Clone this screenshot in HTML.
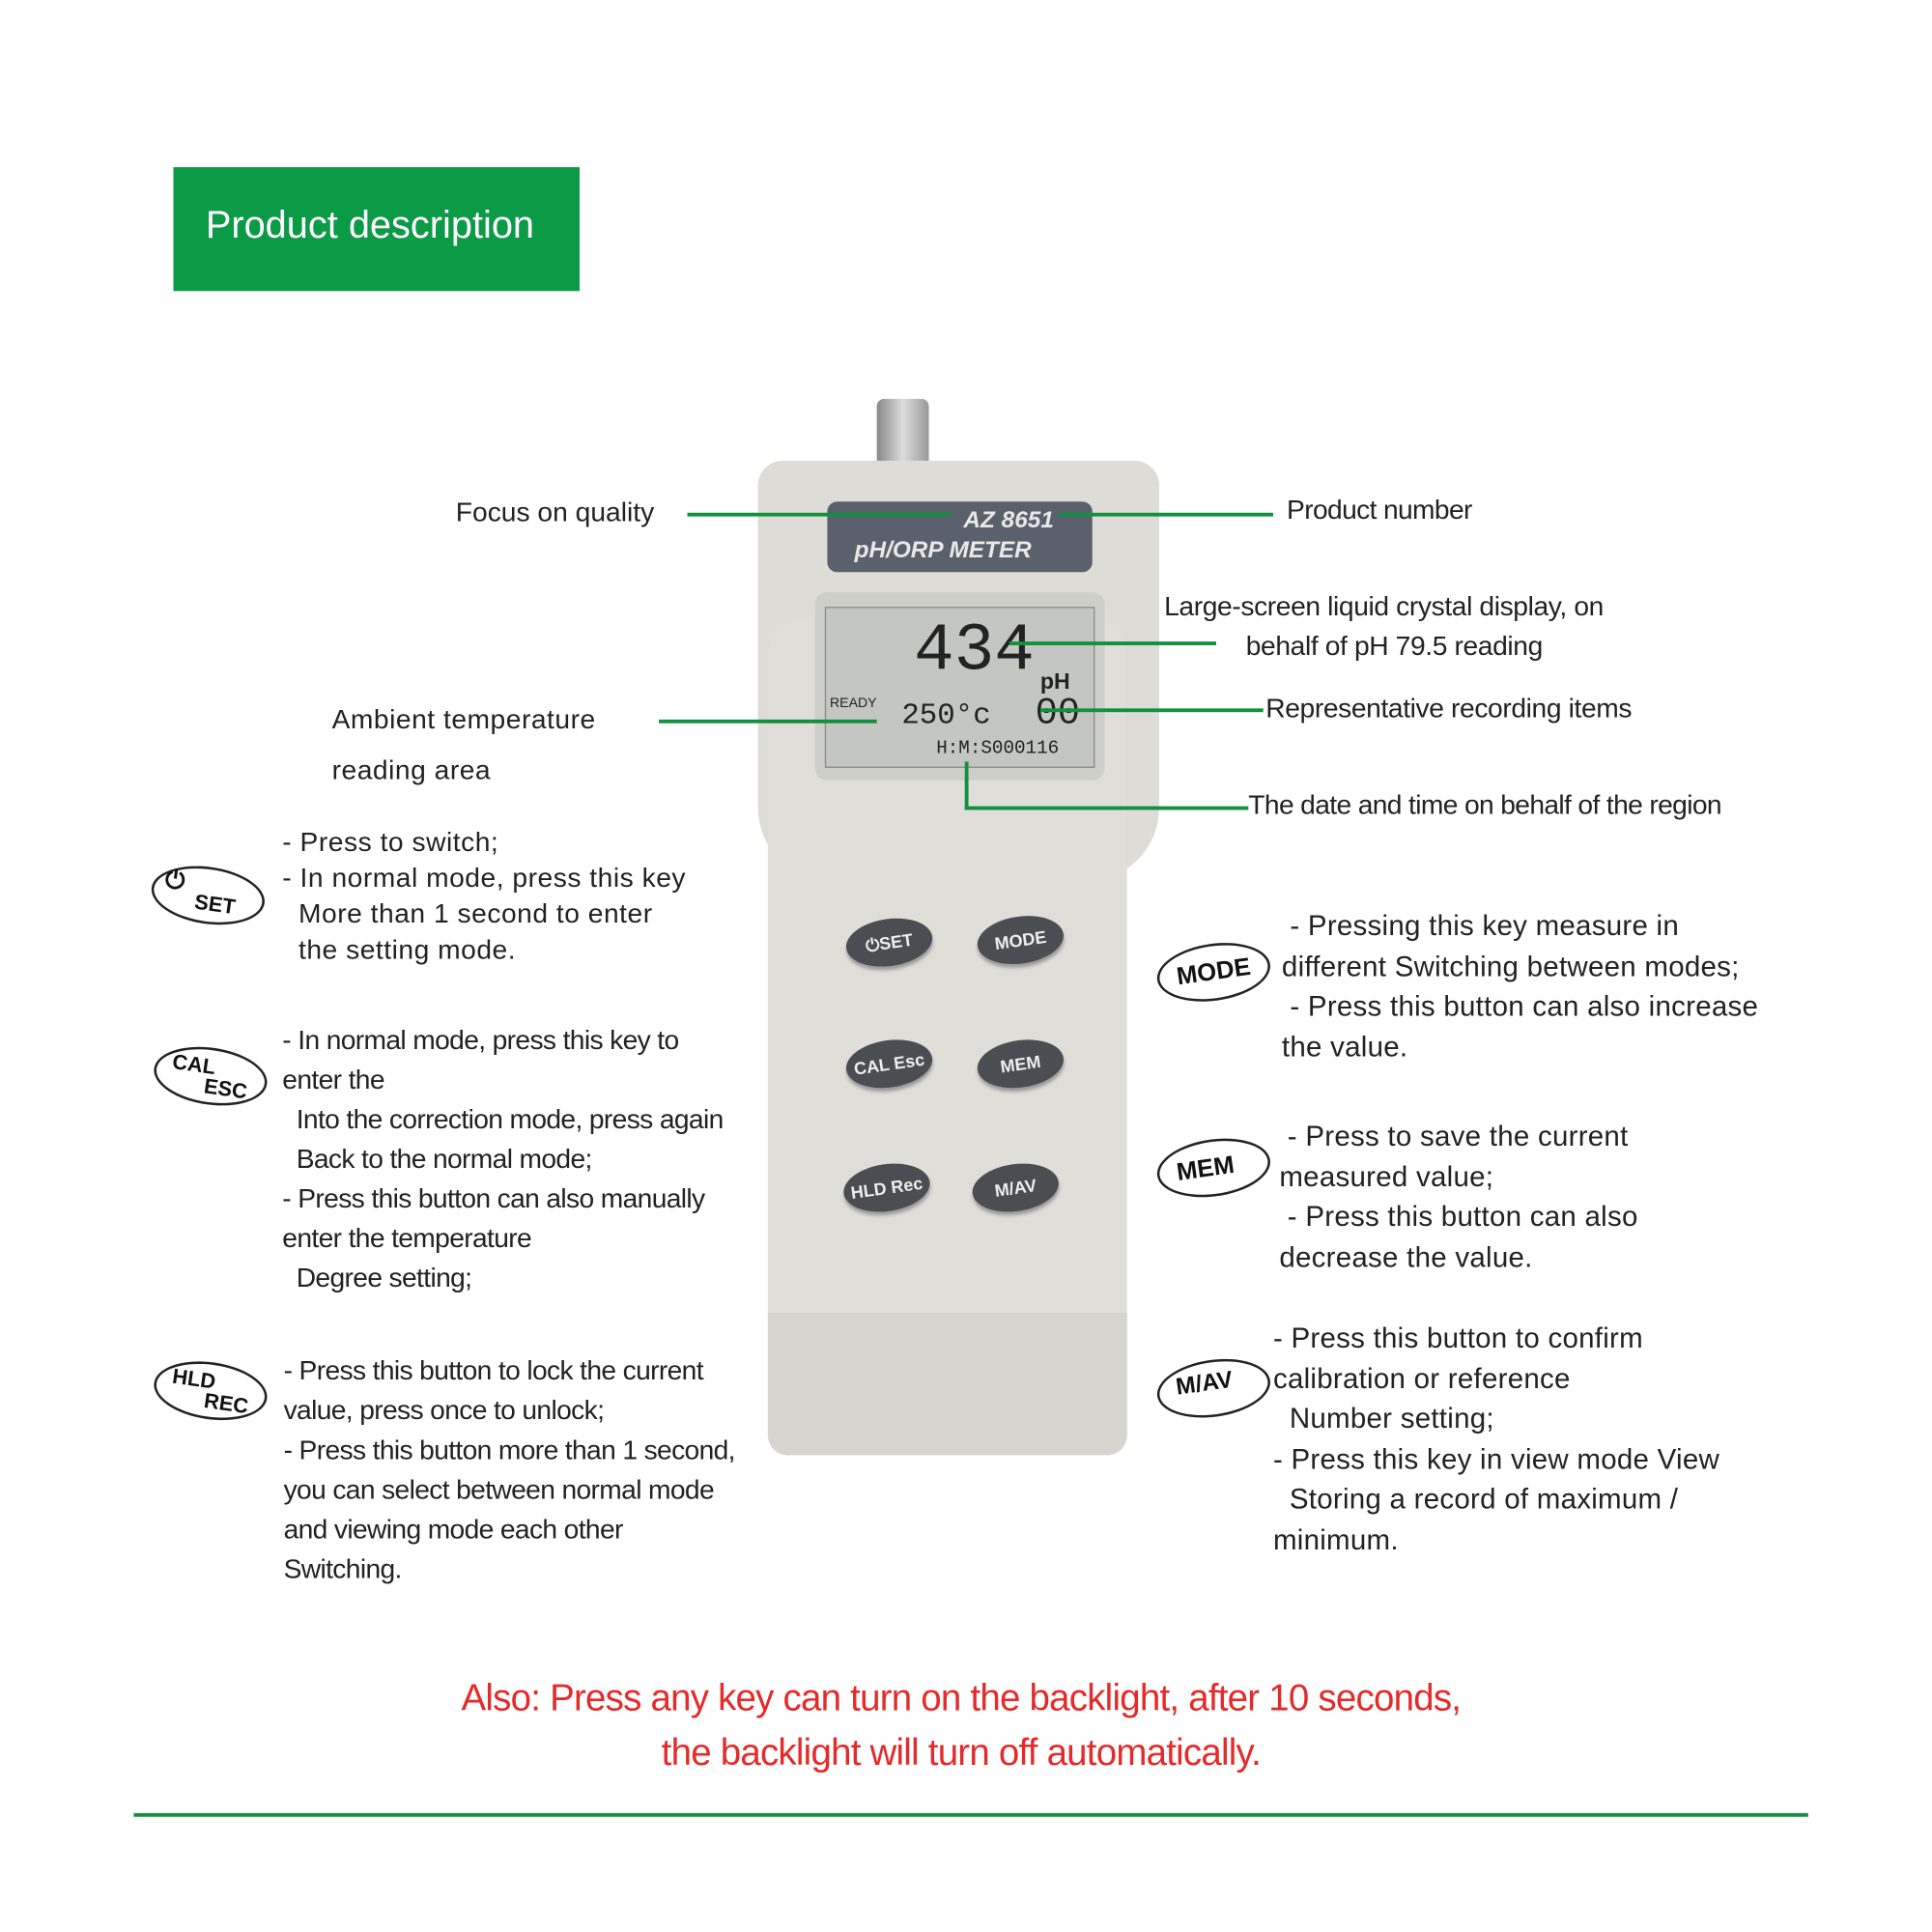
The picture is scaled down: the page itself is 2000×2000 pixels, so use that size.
<!DOCTYPE html>
<html><head><meta charset="utf-8"><style>
html,body{margin:0;padding:0;background:#fff;width:2000px;height:2000px;overflow:hidden}
#w{position:absolute;left:0;top:0;width:1560px;height:1560px;transform:scale(1.28205);transform-origin:0 0;font-family:"Liberation Sans",sans-serif;color:#222}
.a{position:absolute;white-space:nowrap}
.t{font-size:22px;line-height:29px}
.t2{font-size:22px;line-height:32px;letter-spacing:-0.5px}
.r{font-size:23px;letter-spacing:0.2px}
.g{position:absolute;background:#129040}
.btn{position:absolute;width:70px;height:38px;border-radius:50%;background:#4a4d52;color:#eee;font-size:14px;font-weight:bold;text-align:center;line-height:38px;box-shadow:0 3px 3px #999;transform:rotate(-8deg)}
.ic{position:absolute;width:88px;height:42px;border:2px solid #222;border-radius:50%;font-weight:bold;font-size:17px;color:#111;transform:rotate(8deg)}
</style></head><body><div id="w">
<div class="a" style="left:140px;top:135px;width:328px;height:100px;background:#0b9a45"></div>
<div class="a" style="left:166px;top:164px;font-size:31px;color:#fff">Product description</div>

<div class="a" style="left:708px;top:322px;width:42px;height:56px;background:linear-gradient(90deg,#888,#ddd,#999);border-radius:6px 6px 0 0"></div>
<div class="a" style="left:612px;top:372px;width:324px;height:340px;background:#dddcd6;border-radius:20px 20px 60px 60px"></div>
<div class="a" style="left:620px;top:500px;width:290px;height:675px;background:#dfded8;border-radius:30px 30px 16px 16px"></div>
<div class="a" style="left:620px;top:1060px;width:290px;height:115px;background:#d6d5cf;border-radius:0 0 16px 16px"></div>
<div class="a" style="left:668px;top:405px;width:214px;height:57px;background:#5a616d;border-radius:8px"></div>
<div class="a" style="left:778px;top:410px;color:#e8e8e8;font-style:italic;font-weight:bold;font-size:19px">AZ 8651</div>
<div class="a" style="left:690px;top:434px;color:#e8e8e8;font-style:italic;font-weight:bold;font-size:19px">pH/ORP METER</div>
<div class="a" style="left:658px;top:478px;width:234px;height:152px;background:#cfcfca;border-radius:10px"></div>
<div class="a" style="left:666px;top:490px;width:216px;height:128px;background:#c4c6c2;border:1px solid #888"></div>
<div class="a" style="left:738px;top:496px;font-size:54px;font-family:'Liberation Mono',monospace;color:#222">434</div>
<div class="a" style="left:840px;top:540px;font-size:18px;font-weight:bold">pH</div>
<div class="a" style="left:670px;top:562px;font-size:11px">READY</div>
<div class="a" style="left:728px;top:565px;font-size:24px;font-family:'Liberation Mono',monospace">250°c</div>
<div class="a" style="left:836px;top:560px;font-size:30px;font-family:'Liberation Mono',monospace">00</div>
<div class="a" style="left:756px;top:596px;font-size:15px;font-family:'Liberation Mono',monospace">H:M:S000116</div>
<div class="btn" style="left:683px;top:742px">⏻SET</div>
<div class="btn" style="left:789px;top:740px">MODE</div>
<div class="btn" style="left:683px;top:840px">CAL Esc</div>
<div class="btn" style="left:789px;top:840px">MEM</div>
<div class="btn" style="left:681px;top:940px">HLD Rec</div>
<div class="btn" style="left:785px;top:940px">M/AV</div>

<div class="g" style="left:555px;top:414px;width:213px;height:3px"></div>
<div class="g" style="left:855px;top:414px;width:173px;height:3px"></div>
<div class="g" style="left:815px;top:518px;width:167px;height:3px"></div>
<div class="g" style="left:840px;top:572px;width:180px;height:3px"></div>
<div class="g" style="left:532px;top:581px;width:176px;height:3px"></div>
<div class="g" style="left:779px;top:615px;width:3px;height:39px"></div>
<div class="g" style="left:779px;top:651px;width:229px;height:3px"></div>

<div class="a t" style="left:368px;top:399px">Focus on quality</div>
<div class="a t" style="left:1039px;top:397px;letter-spacing:-0.5px">Product number</div>
<div class="a t" style="left:940px;top:475px;letter-spacing:-0.3px">Large-screen liquid crystal display, on</div>
<div class="a t" style="left:1006px;top:507px;letter-spacing:-0.3px">behalf of pH 79.5 reading</div>
<div class="a t" style="left:1022px;top:557px;letter-spacing:-0.3px">Representative recording items</div>
<div class="a t" style="left:1008px;top:635px;letter-spacing:-0.5px">The date and time on behalf of the region</div>
<div class="a t" style="left:268px;top:560px;line-height:41px;letter-spacing:0.4px">Ambient temperature<br>reading area</div>

<div class="ic" style="left:122px;top:700px"><span style="position:absolute;left:8px;top:2px;font-size:20px">⏻</span><span style="position:absolute;left:34px;top:18px">SET</span></div>
<div class="a t" style="left:228px;top:665px;letter-spacing:0.4px">- Press to switch;<br>- In normal mode, press this key<br>&nbsp;&nbsp;More than 1 second to enter<br>&nbsp;&nbsp;the setting mode.</div>

<div class="ic" style="left:124px;top:846px"><span style="position:absolute;left:12px;top:4px">CAL</span><span style="position:absolute;left:40px;top:20px">ESC</span></div>
<div class="a t2" style="left:228px;top:824px">- In normal mode, press this key to<br>enter the<br>&nbsp;&nbsp;Into the correction mode, press again<br>&nbsp;&nbsp;Back to the normal mode;<br>- Press this button can also manually<br>enter the temperature<br>&nbsp;&nbsp;Degree setting;</div>

<div class="ic" style="left:124px;top:1100px"><span style="position:absolute;left:12px;top:4px">HLD</span><span style="position:absolute;left:40px;top:20px">REC</span></div>
<div class="a t2" style="left:229px;top:1091px">- Press this button to lock the current<br>value, press once to unlock;<br>- Press this button more than 1 second,<br>you can select between normal mode<br>and viewing mode each other<br>Switching.</div>

<div class="ic" style="left:934px;top:762px;transform:rotate(-8deg)"><span style="position:absolute;left:14px;top:10px;font-size:20px">MODE</span></div>
<div class="a t r" style="left:1035px;top:731px;line-height:32.5px">&nbsp;- Pressing this key measure in<br>different Switching between modes;<br>&nbsp;- Press this button can also increase<br>the value.</div>

<div class="ic" style="left:934px;top:920px;transform:rotate(-8deg)"><span style="position:absolute;left:14px;top:10px;font-size:20px">MEM</span></div>
<div class="a t r" style="left:1033px;top:901px;line-height:32.5px">&nbsp;- Press to save the current<br>measured value;<br>&nbsp;- Press this button can also<br>decrease the value.</div>

<div class="ic" style="left:934px;top:1098px;transform:rotate(-8deg)"><span style="position:absolute;left:14px;top:6px;font-size:19px">M/AV</span></div>
<div class="a t r" style="left:1028px;top:1064px;line-height:32.5px">- Press this button to confirm<br>calibration or reference<br>&nbsp;&nbsp;Number setting;<br>- Press this key in view mode View<br>&nbsp;&nbsp;Storing a record of maximum /<br>minimum.</div>

<div class="a" style="left:0;width:1552px;top:1350px;text-align:center;color:#e52a2a;font-size:30px;line-height:44px;letter-spacing:-0.6px">Also: Press any key can turn on the backlight, after 10 seconds,<br>the backlight will turn off automatically.</div>
<div class="g" style="left:108px;top:1464px;width:1352px;height:3px"></div>
</div></body></html>
